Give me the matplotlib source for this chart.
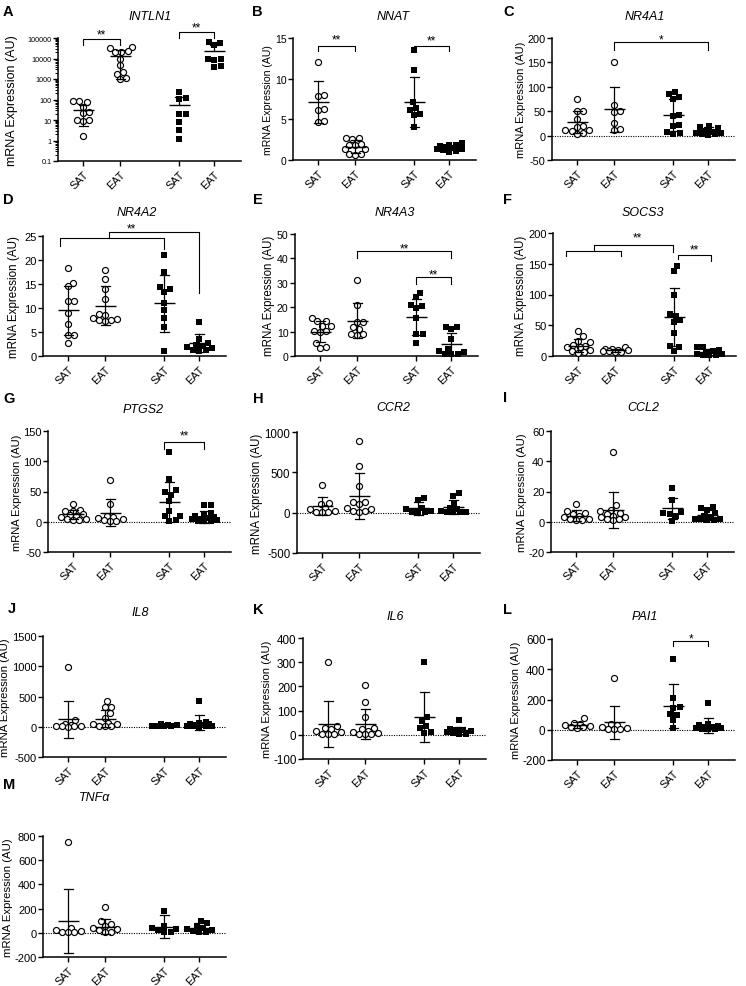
import numpy as np
import matplotlib
matplotlib.use('Agg')
import matplotlib.pyplot as plt
from matplotlib.ticker import LogLocator, NullFormatter, FixedLocator, FixedFormatter

plt.rcParams['font.family'] = ['Liberation Sans', 'DejaVu Sans']

W, H = 746, 987
groups = ['SAT', 'EAT', 'SAT', 'EAT']

# values (SAT, EAT, SAT, EAT)
a_vals = [[80, 85, 75, 45, 25, 22, 10, 9, 10, 1.6],
          [32000, 36000, 21000, 20000, 22000, 10000, 4600, 2200, 1800, 1100, 1000],
          [230, 110, 120, 20, 20, 8, 3.2, 1.2],
          [65000, 58000, 45000, 9000, 8500, 9500, 4000, 4500]]
a_mean = [30, 13000, 55, 22000]
a_sd = [25, 12000, 80, 25000]

b_vals = [[12, 8, 7.9, 6.3, 6.2, 4.8, 4.7],
          [2.7, 2.6, 2.7, 2.0, 1.9, 1.9, 1.3, 1.3, 0.7, 0.6, 0.7],
          [13.5, 11.1, 7.1, 6.4, 6.1, 5.7, 5.5, 4.0],
          [2.1, 1.9, 1.8, 1.7, 1.6, 1.5, 1.4, 1.3, 1.2, 1.1, 1.0, 1.6]]
b_mean = [7.1, 1.6, 7.1, 1.5]
b_sd = [2.6, 0.8, 3.1, 0.3]

c_vals = [[75, 50, 50, 35, 20, 18, 12, 11, 10, 5, 4],
          [150, 62, 50, 48, 25, 14, 12],
          [90, 85, 80, 75, 42, 40, 22, 20, 8, 5, 4],
          [20, 18, 15, 10, 8, 6, 5, 4, 3, 2]]
c_mean = [28, 54, 42, 12]
c_sd = [22, 46, 32, 5]

d_vals = [[18.3, 15.3, 14.6, 11.5, 11.5, 9.0, 6.6, 4.3, 4.3, 2.8],
          [18, 16, 14, 11.8, 8.7, 8.5, 7.8, 7.5, 7.3, 7.5, 8],
          [21, 17.5, 14.3, 14, 13.3, 11, 9.5, 8, 6, 1],
          [7, 3.5, 2.7, 2.2, 2, 1.8, 1.6, 1.3, 1.2, 1]]
d_mean = [9.5, 10.5, 11, 2.7]
d_sd = [5.1, 4, 5.9, 1.9]

e_vals = [[15.5, 14.4, 14.4, 12.5, 12.2, 10.3, 10.3, 10, 5.5, 3.5, 3.4],
          [31, 21, 14, 14, 12, 11, 9, 9, 8.5],
          [26, 24, 21, 19.5, 20.5, 15.5, 9, 9, 5.5],
          [12, 12, 11, 7, 3, 2, 1.5, 1, 1, 0.8]]
e_mean = [10, 14.5, 16, 5]
e_sd = [4.3, 7.3, 7.2, 4.4]

f_vals = [[40, 32, 25, 22, 18, 16, 15, 14, 10, 8, 7, 5],
          [14, 12, 11, 10, 9, 8, 8, 7, 6],
          [147, 138, 100, 68, 65, 58, 55, 38, 16, 15, 8],
          [15, 14, 10, 8, 5, 4, 3, 2, 2, 1.5]]
f_mean = [17, 9.5, 63, 6]
f_sd = [10, 2.5, 47, 5]

g_vals = [[30, 20, 18, 17, 12, 11, 10, 8, 5, 4, 3, 3],
          [69, 30, 10, 8, 6, 4, 3, 2, 1],
          [115, 70, 52, 50, 45, 35, 18, 10, 9, 3, 2],
          [28, 28, 15, 12, 10, 8, 6, 5, 4, 3, 2, 2, 1]]
g_mean = [12, 15, 33, 8]
g_sd = [8, 22, 33, 10]

h_vals = [[340, 120, 110, 60, 40, 20, 10, 5, 3],
          [890, 580, 330, 135, 130, 110, 60, 50, 20, 15, 10],
          [180, 160, 60, 40, 20, 10, 5, 3],
          [245, 205, 125, 60, 40, 20, 10, 8, 5, 3]]
h_mean = [80, 210, 55, 70]
h_sd = [115, 285, 80, 90]

i_vals = [[12, 7, 6, 5, 4, 3, 2, 2, 1, 1],
          [46, 11, 8, 7, 6, 5, 4, 3, 3, 2, 2, 1],
          [22, 14.5, 6.5, 6, 5, 4, 0.5],
          [10, 9, 8, 6, 4, 3, 2, 2, 1.5, 1, 1]]
i_mean = [4, 8, 9, 4.5]
i_sd = [3.5, 12, 7, 3.5]

j_vals = [[990, 110, 50, 30, 20, 15, 10, 5, 3],
          [420, 330, 320, 220, 150, 60, 50, 40, 20, 10, 5],
          [40, 30, 25, 20, 15, 10, 5],
          [420, 80, 60, 50, 40, 30, 25, 20, 15, 10, 5, 3]]
j_mean = [120, 130, 20, 65]
j_sd = [300, 140, 12, 125]

k_vals = [[300, 35, 30, 25, 15, 10, 5, 3, 2],
          [205, 135, 72, 30, 25, 15, 10, 8, 5, 3, 2],
          [300, 75, 58, 37, 27, 10, 8],
          [60, 25, 20, 18, 15, 10, 8, 5, 3]]
k_mean = [45, 45, 73, 18]
k_sd = [95, 62, 102, 14]

l_vals = [[75, 45, 40, 30, 25, 20, 15, 12],
          [340, 40, 30, 15, 10, 8, 5, 3],
          [465, 210, 150, 145, 105, 100, 65, 10],
          [175, 40, 30, 25, 20, 15, 12, 10, 8, 5, 3]]
l_mean = [33, 50, 155, 30]
l_sd = [20, 108, 145, 50]

m_vals = [[750, 40, 20, 15, 10, 8, 5],
          [215, 100, 70, 60, 40, 30, 20, 10, 5],
          [180, 60, 40, 30, 20, 10, 5],
          [100, 80, 60, 40, 30, 20, 15, 10, 5]]
m_mean = [100, 50, 50, 40]
m_sd = [265, 60, 95, 40]

# significance brackets: (x1, x2, y, left end, right end, text, text x, text y)
a_brk = [(1, 2, 93000, 44000, 44000, '**', None, 230000),
         (3.6, 4.55, 196000, 100000, 100000, '**', None, 480000)]
b_brk = [(1, 2, 14.0, 13.35, 13.35, '**', None, 15.3),
         (3.6, 4.55, 14.0, 13.35, 13.35, '**', None, 15.1)]
c_brk = [(2, 4.55, 192, 175, 175, '*', None, 204)]
d_brk = [(0.78, 3.6, 24.65, 22.9, 22.3, None, None, None),
         (2.1, 4.55, 25.8, 24.65, 13.2, '**', 2.71, 27.4)]
e_brk = [(2, 4.55, 42.9, 40.1, 40.1, '**', None, 45.7),
         (3.6, 4.55, 32.2, 29.5, 29.5, '**', None, 34.9)]
f_brk = [(0.66, 2.15, 170, 163, 163, None, None, None),
         (1.42, 3.57, 180, 170, 169, '**', 2.6, 199),
         (3.69, 4.6, 164.6, 157, 155, '**', 4.15, 179)]
g_brk = [(3.46, 4.55, 131.7, 120.7, 120.7, '**', None, 149)]
l_brk = [(3.6, 4.55, 589, 556, 556, '*', None, 630)]

xpos = [1, 2, 3.6, 4.55]
XL = (0.32, 5.27)
AXW = 183


def swarm(ypix, d, maxw):
    placed = []
    offs = np.zeros(len(ypix))
    for i in np.argsort(ypix):
        y = ypix[i]
        cands = [0.0]
        for xj, yj in placed:
            dy = y - yj
            if abs(dy) < d:
                dx = np.sqrt(d * d - dy * dy)
                cands += [xj + dx, xj - dx]
        cands = sorted([c for c in cands if abs(c) <= maxw], key=abs)
        best = None
        for c in cands:
            if all((c - xj) ** 2 + (y - yj) ** 2 >= d * d - 1e-6 for xj, yj in placed):
                best = c
                break
        if best is None:
            grid = np.linspace(-maxw, maxw, 9)
            score = [min((g - xj) ** 2 + (y - yj) ** 2 for xj, yj in placed) for g in grid]
            best = grid[int(np.argmax(score))]
        offs[i] = best
        placed.append((best, y))
    return offs


def panel(fig, p):
    left, top, bottom = p['rect']
    ax = fig.add_axes([left / W, 1 - bottom / H, AXW / W, (bottom - top) / H])
    ticks = p['yticks']
    if p.get('log'):
        ax.set_yscale('log')
        ax.yaxis.set_minor_locator(LogLocator(subs=np.arange(2, 10)))
        ax.yaxis.set_minor_formatter(NullFormatter())
    ax.set_ylim(ticks[0], ticks[-1])
    ax.set_xlim(*XL)
    ax.yaxis.set_major_locator(FixedLocator(ticks))
    ax.yaxis.set_major_formatter(FixedFormatter(['%g' % t for t in ticks]))
    for s in ['top', 'right']:
        ax.spines[s].set_visible(False)
    for s in ['left', 'bottom']:
        ax.spines[s].set_linewidth(1.1)
    ax.tick_params(axis='y', which='major', length=3.5, width=1.0, pad=1.2, labelsize=p['fs'][0])
    ax.tick_params(axis='y', which='minor', length=2, width=0.7)
    ax.set_xticks(xpos)
    ax.set_xticklabels(groups, rotation=45, ha='right', rotation_mode='anchor', fontsize=7.8)
    ax.tick_params(axis='x', length=3.5, width=1.0, pad=2)
    if p.get('zero'):
        ax.axhline(0, ls=(0, (1, 1.2)), lw=0.8, color='black', zorder=1)
    ax.set_ylabel('mRNA Expression (AU)', fontsize=p['fs'][1], labelpad=p.get('lp', 1.0))

    pxu = ax.transData.transform((1, 1))[0] - ax.transData.transform((0, 1))[0]
    for gi, vals in enumerate(p['vals']):
        v = np.array(vals, dtype=float)
        ypix = np.array([ax.transData.transform((xpos[gi], yv))[1] for yv in v])
        offs = swarm(ypix, 6.3, 13) / pxu
        xs = xpos[gi] + offs
        if gi < 2:
            ax.scatter(xs, v, s=19, marker='o', facecolor='white', edgecolor='black',
                       linewidths=0.85, zorder=3, clip_on=False)
        else:
            ax.scatter(xs, v, s=15, marker='s', color='black', linewidths=0, zorder=3, clip_on=False)
        m = p['mean'][gi]
        sd = p['sd'][gi]
        x0 = xpos[gi]
        hw = 10.5 / pxu
        cw = 4.5 / pxu
        lo = m - sd
        hi = m + sd
        if p.get('log') and lo <= 0:
            lo = m
        ax.plot([x0 - hw, x0 + hw], [m, m], color='black', lw=1.0, zorder=4, solid_capstyle='butt')
        ax.plot([x0, x0], [lo, hi], color='black', lw=0.9, zorder=4)
        ax.plot([x0 - cw, x0 + cw], [hi, hi], color='black', lw=0.9, zorder=4)
        if lo != m:
            ax.plot([x0 - cw, x0 + cw], [lo, lo], color='black', lw=0.9, zorder=4)

    for (x1, x2, y, e1, e2, txt, tx, ty) in p.get('brk', []):
        ax.plot([x1, x1, x2, x2], [e1, y, y, e2], color='black', lw=0.8, clip_on=False, zorder=5)
        if txt:
            if tx is None:
                tx = (x1 + x2) / 2
            ax.annotate(txt, (tx, ty), xytext=(0, -4.8), textcoords='offset points',
                        ha='center', va='baseline', fontsize=8.5, annotation_clip=False)

    lx, ly = p['lxy']
    fig.text(lx / W, 1 - ly / H, p['letter'], fontsize=10.5, fontweight='bold',
             ha='left', va='center')
    tx, ty = p['txy']
    fig.text(tx / W, 1 - ty / H, p['title'], fontsize=9, style='italic', ha='center', va='center')
    return ax


fig = plt.figure(figsize=(W / 100, H / 100), dpi=100)

panels = [
    dict(letter='A', title='INTLN1', rect=(58, 39, 162), vals=a_vals, mean=a_mean, sd=a_sd,
         yticks=[0.1, 1, 10, 100, 1000, 10000, 100000], log=True, fs=(5.2, 9.0), lp=7,
         lxy=(3, 12), txy=(150, 17), brk=a_brk),
    dict(letter='B', title='NNAT', rect=(293, 39, 161), vals=b_vals, mean=b_mean, sd=b_sd,
         yticks=[0, 5, 10, 15], fs=(7.5, 7.6), lxy=(252, 12), txy=(393, 17), brk=b_brk),
    dict(letter='C', title='NR4A1', rect=(552, 39, 161), vals=c_vals, mean=c_mean, sd=c_sd,
         yticks=[-50, 0, 50, 100, 150, 200], zero=True, fs=(7.9, 8.0),
         lxy=(503, 12), txy=(645, 17), brk=c_brk),
    dict(letter='D', title='NR4A2', rect=(43, 237, 357), vals=d_vals, mean=d_mean, sd=d_sd,
         yticks=[0, 5, 10, 15, 20, 25], fs=(8.0, 8.4), lp=3, lxy=(3, 200), txy=(137, 213), brk=d_brk),
    dict(letter='E', title='NR4A3', rect=(295, 235, 357), vals=e_vals, mean=e_mean, sd=e_sd,
         yticks=[0, 10, 20, 30, 40, 50], fs=(7.6, 8.3), lxy=(253, 200), txy=(395, 213),
         brk=e_brk),
    dict(letter='F', title='SOCS3', rect=(553, 234, 357), vals=f_vals, mean=f_mean, sd=f_sd,
         yticks=[0, 50, 100, 150, 200], fs=(8.0, 8.3), lxy=(503, 200), txy=(643, 213),
         brk=f_brk),
    dict(letter='G', title='PTGS2', rect=(48, 432, 553), vals=g_vals, mean=g_mean, sd=g_sd,
         yticks=[-50, 0, 50, 100, 150], zero=True, fs=(8.0, 8.0), lxy=(3, 399),
         txy=(143, 410), brk=g_brk),
    dict(letter='H', title='CCR2', rect=(297, 433, 554), vals=h_vals, mean=h_mean, sd=h_sd,
         yticks=[-500, 0, 500, 1000], zero=True, fs=(8.3, 8.3), lxy=(253, 399),
         txy=(393, 408)),
    dict(letter='I', title='CCL2', rect=(551, 432, 553), vals=i_vals, mean=i_mean, sd=i_sd,
         yticks=[-20, 0, 20, 40, 60], zero=True, fs=(8.0, 8.2), lxy=(503, 398),
         txy=(643, 408)),
    dict(letter='J', title='IL8', rect=(43, 637, 758), vals=j_vals, mean=j_mean, sd=j_sd,
         yticks=[-500, 0, 500, 1000, 1500], zero=True, fs=(8.0, 8.2), lxy=(8, 609),
         txy=(140, 613)),
    dict(letter='K', title='IL6', rect=(303, 639, 760), vals=k_vals, mean=k_mean, sd=k_sd,
         yticks=[-100, 0, 100, 200, 300, 400], zero=True, fs=(8.4, 8.1), lxy=(253, 610),
         txy=(395, 617)),
    dict(letter='L', title='PAI1', rect=(552, 640, 761), vals=l_vals, mean=l_mean, sd=l_sd,
         yticks=[-200, 0, 200, 400, 600], zero=True, fs=(8.4, 8.1), lxy=(503, 610),
         txy=(645, 617), brk=l_brk),
    dict(letter='M', title='TNF\u03b1', rect=(43, 837, 958), vals=m_vals, mean=m_mean, sd=m_sd,
         yticks=[-200, 0, 200, 400, 600, 800], zero=True, fs=(8.0, 8.2), lxy=(3, 785),
         txy=(95, 798)),
]

for p in panels:
    panel(fig, p)

fig.savefig('out.png', dpi=100)
